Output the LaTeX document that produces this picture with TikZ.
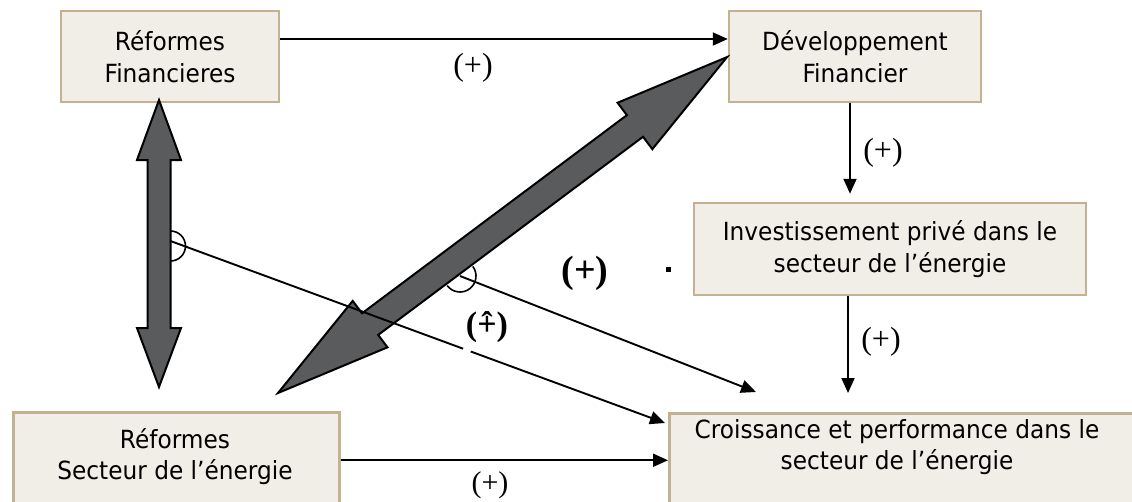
\documentclass[tikz,border=0pt]{standalone}
\usepackage{fontspec}
\setmainfont{DejaVu Sans}[FakeStretch=0.93]
\newfontfamily\lblfont{Liberation Serif}
\usetikzlibrary{arrows.meta,calc}
\definecolor{boxfill}{HTML}{F1EEE7}
\definecolor{boxline}{HTML}{C4B191}
\definecolor{blockgray}{HTML}{5A5B5D}
\begin{document}
\begin{tikzpicture}[x=1pt,y=-1pt,
  box/.style={draw=boxline, line width=2.5pt, fill=boxfill, inner sep=0pt, align=center, font=\fontsize{25}{32}\selectfont},
  boxtext/.style={align=center, inner sep=0pt, font=\fontsize{25}{31}\selectfont},
  arr/.style={line width=1.9pt, -{Triangle[length=15pt,width=13pt]}},
  thinline/.style={line width=1.6pt},
  lbl/.style={font=\lblfont\fontsize{32}{32}\selectfont, inner sep=0pt},
  blbl/.style={font=\lblfont\bfseries\fontsize{38}{38}\selectfont, inner sep=0pt},
  hlbl/.style={font=\lblfont\bfseries\fontsize{34}{34}\selectfont, inner sep=0pt},
  block/.style={draw=black, line width=2pt, fill=blockgray, line join=miter},
]
\useasboundingbox (0,0) rectangle (1132,501);
\clip (0,0) rectangle (1132,501);

% boxes
\node[box, minimum width=218pt, minimum height=91pt] (refF) at (170,56.5) {Réformes\\Financieres};
\node[box, minimum width=252pt, minimum height=91pt] (devF) at (855,56.5) {Développement\\Financier};
\node[box, minimum width=392pt, minimum height=92pt] (invP) at (890,249) {Investissement privé dans le\\secteur de l’énergie};
\node[box, minimum width=480pt, minimum height=110pt, anchor=north west] (croi) at (668,412) {};
\node[boxtext] (croiT) at (897,447) {Croissance et performance dans le\\secteur de l’énergie};
\node[box, minimum width=326pt, minimum height=110pt, anchor=north west] (refE) at (12,411) {};
\node[boxtext] (refET) at (175,457) {Réformes\\Secteur de l’énergie};

% block double arrows
\coordinate (vt) at (159,100);
\coordinate (vb) at (159,387);
\draw[block] (vt) -- ++(22,60) -- ++(-10.5,0) -- ++(0,168) -- ++(10.5,0) -- (vb)
  -- ++(-22,-59) -- ++(10.5,0) -- ++(0,-168) -- ++(-10.5,0) -- cycle;

\coordinate (db) at (278,393);
\coordinate (dt) at (727,57);
\begin{scope}[shift={(db)}, rotate=36.8]
  \draw[block] (0,0) -- (115,29) -- (115,13.5) -- (445.8,13.5) -- (445.8,29) -- (560.8,0)
    -- (445.8,-29) -- (445.8,-13.5) -- (115,-13.5) -- (115,-29) -- cycle;
\end{scope}

% thin connectors
\coordinate (a1) at ([yshift=17.5pt]refF.east);
\draw[arr] (a1) -- (a1 -| devF.west);
\coordinate (b1) at ([xshift=-5pt]devF.south);
\draw[arr, shorten >=8pt] (b1) -- (b1 |- invP.north);
\coordinate (c1) at ([xshift=-42pt]invP.south);
\draw[arr, shorten >=19pt] (c1) -- (c1 |- croi.north);
\coordinate (e1) at ([yshift=7pt]refE.east);
\draw[arr] (e1) -- (e1 -| croi.west);

\coordinate (la) at (170.5,241);
\coordinate (laend) at ($(croi.north west)+(-3,11)$);
\draw[arr] (la) -- (laend);
\draw[white, line width=4pt] ($(la)!0.592!(laend)$) -- ($(la)!0.607!(laend)$);
\draw[thinline] (170.5,246) ++(-90:15) arc[start angle=-90, end angle=90, radius=15];

\coordinate (lb) at (460,276);
\draw[arr] (lb) -- ($(croi.north west)+(88,-20)$);
\draw[thinline] (lb) ++(-36.8:16) arc[start angle=-36.8, end angle=143.2, radius=16];

% labels
\node[lbl] (p1) at (473,68) {(+)};
\node[lbl] (p2) at (883,153) {(+)};
\node[lbl] (p3) at (881,342) {(+)};
\node[lbl, font=\lblfont\fontsize{30}{30}\selectfont] (p4) at (490,485) {(+)};
\node[blbl] (p5) at (585,273) {(+)};
\node[hlbl] (p6) at (487,327) {(\ooalign{+\cr\hidewidth\char"02C6\hidewidth\cr})};
\node[fill=black, minimum size=5pt, inner sep=0pt] (dot) at (668,269) {};
\end{tikzpicture}
\end{document}
